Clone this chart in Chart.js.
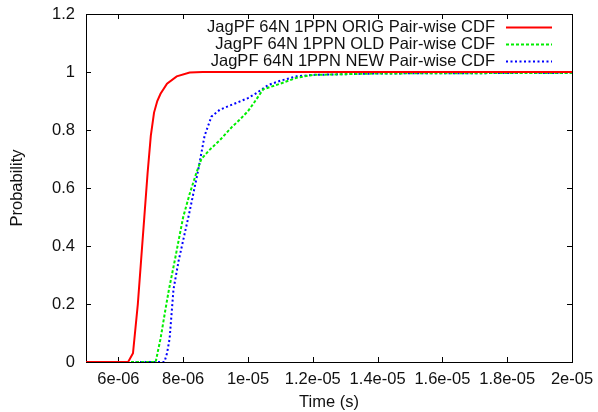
<!DOCTYPE html>
<html>
<head>
<meta charset="utf-8">
<script src="https://cdn.jsdelivr.net/npm/chart.js@4.4.1/dist/chart.umd.min.js"></script>
<style>
  html, body { margin: 0; padding: 0; background: #fff; }
  #wrap { width: 598px; height: 412px; position: relative; }
</style>
</head>
<body>
<div id="wrap"><canvas id="cdf"></canvas></div>
<script>
// time (s) / probability pairs
const origTime = [5e-6, 6.3e-6, 6.45e-6, 6.6e-6, 6.7e-6, 6.8e-6, 6.9e-6, 7.0e-6, 7.1e-6, 7.2e-6, 7.3e-6, 7.5e-6, 7.8e-6, 8.2e-6, 8.6e-6, 2e-5];
const origProb = [0, 0, 0.03, 0.2, 0.35, 0.5, 0.65, 0.78, 0.86, 0.9, 0.925, 0.96, 0.985, 0.998, 1, 1];

const oldTime = [5e-6, 7.15e-6, 7.3e-6, 7.45e-6, 7.56e-6, 7.74e-6, 7.86e-6, 8.0e-6, 8.2e-6, 8.4e-6, 8.56e-6, 8.8e-6, 9.13e-6, 9.5e-6, 9.74e-6, 10.0e-6, 10.16e-6, 10.47e-6, 11e-6, 11.5e-6, 12e-6, 14e-6, 2e-5];
const oldProb = [0, 0, 0.08, 0.18, 0.25, 0.35, 0.42, 0.5, 0.58, 0.65, 0.7, 0.73, 0.765, 0.81, 0.835, 0.865, 0.89, 0.94, 0.96, 0.98, 0.99, 0.995, 0.997];

const newTime = [5e-6, 7.42e-6, 7.5e-6, 7.58e-6, 7.7e-6, 7.86e-6, 8.0e-6, 8.2e-6, 8.46e-6, 8.66e-6, 8.87e-6, 9.13e-6, 9.74e-6, 10.0e-6, 10.26e-6, 10.62e-6, 11e-6, 11.5e-6, 12e-6, 14e-6, 2e-5];
const newProb = [0, 0, 0.03, 0.08, 0.25, 0.35, 0.42, 0.52, 0.66, 0.78, 0.846, 0.87, 0.898, 0.91, 0.927, 0.955, 0.97, 0.985, 0.99, 0.995, 0.997];

const seriesNames = ['JagPF 64N 1PPN ORIG Pair-wise CDF', 'JagPF 64N 1PPN OLD Pair-wise CDF', 'JagPF 64N 1PPN NEW Pair-wise CDF'];

const xTickValues = [6e-6, 8e-6, 1e-5, 1.2e-5, 1.4e-5, 1.6e-5, 1.8e-5, 2e-5];
const xTickLabels = ['6e-06', '8e-06', '1e-05', '1.2e-05', '1.4e-05', '1.6e-05', '1.8e-05', '2e-05'];
const yTickValues = [0, 0.2, 0.4, 0.6, 0.8, 1, 1.2];
const yTickLabels = ['0', '0.2', '0.4', '0.6', '0.8', '1', '1.2'];

const FONT = "'Liberation Sans', Arial, sans-serif";
const FSIZE = 16.5;

function pairs(ts, ps) {
    return ts.map((t, i) => ({ x: t, y: ps[i] }));
}

// gnuplot style box with inward ticks on all four sides
const frame = {
    id: 'frame',
    beforeDatasetsDraw(chart) {
        const { ctx, chartArea: a, scales } = chart;
        const len = 5;
        ctx.save();
        ctx.strokeStyle = '#000';
        ctx.lineWidth = 1;
        ctx.beginPath();
        xTickValues.forEach(v => {
            const x = Math.round(scales.x.getPixelForValue(v)) + 0.5;
            ctx.moveTo(x, a.bottom); ctx.lineTo(x, a.bottom - len);
            ctx.moveTo(x, a.top); ctx.lineTo(x, a.top + len);
        });
        yTickValues.forEach(v => {
            const y = Math.round(scales.y.getPixelForValue(v)) + 0.5;
            ctx.moveTo(a.left, y); ctx.lineTo(a.left + len, y);
            ctx.moveTo(a.right, y); ctx.lineTo(a.right - len, y);
        });
        ctx.stroke();
        ctx.strokeRect(Math.round(a.left) + 0.5, Math.round(a.top) + 0.5, Math.round(a.right - a.left), Math.round(a.bottom - a.top));
        ctx.restore();
    },
    afterDraw(chart) {
        const { ctx } = chart;
        ctx.save();
        ctx.font = FSIZE + 'px ' + FONT;
        ctx.textAlign = 'right';
        ctx.textBaseline = 'middle';
        chart.data.datasets.forEach((ds, i) => {
            const y = 27 + i * 17;
            ctx.fillStyle = '#111';
            ctx.fillText(ds.label, 495, y);
            ctx.strokeStyle = ds.borderColor;
            ctx.lineWidth = ds.borderWidth;
            ctx.setLineDash(ds.borderDash || []);
            ctx.beginPath();
            ctx.moveTo(506, y + 0.5);
            ctx.lineTo(552, y + 0.5);
            ctx.stroke();
        });
        ctx.restore();
    }
};

new Chart(document.getElementById('cdf'), {
    type: 'scatter',
    data: {
        datasets: [
            { label: seriesNames[0], data: pairs(origTime, origProb), borderColor: '#ff0000', borderWidth: 2 },
            { label: seriesNames[1], data: pairs(oldTime, oldProb), borderColor: '#00ee00', borderWidth: 2, borderDash: [3, 2] },
            { label: seriesNames[2], data: pairs(newTime, newProb), borderColor: '#0000ff', borderWidth: 2, borderDash: [2, 2.5] }
        ].map(d => Object.assign(d, { showLine: true, pointRadius: 0, tension: 0, fill: false }))
    },
    options: {
        responsive: true,
        maintainAspectRatio: false,
        animation: false,
        layout: { padding: { top: 14, right: 26, bottom: 0, left: 0 } },
        plugins: { legend: { display: false }, tooltip: { enabled: false } },
        scales: {
            x: {
                type: 'linear', min: 5e-6, max: 2e-5,
                afterBuildTicks: s => { s.ticks = xTickValues.map(v => ({ value: v })); },
                afterFit: s => { s.height = 50; s.paddingLeft = 0; s.paddingRight = 0; },
                grid: { display: false, drawTicks: false },
                border: { display: false },
                ticks: {
                    color: '#111', padding: 8, maxRotation: 0, autoSkip: false,
                    font: { family: FONT, size: FSIZE },
                    callback: (v, i) => xTickLabels[i]
                },
                title: { display: true, text: 'Time (s)', color: '#111', padding: 0, font: { family: FONT, size: FSIZE } }
            },
            y: {
                type: 'linear', min: 0, max: 1.2,
                afterBuildTicks: s => { s.ticks = yTickValues.map(v => ({ value: v })); },
                // drop the label overhang padding so the plot box keeps its own top edge
                afterFit: s => { s.width = 86; s.paddingTop = 0; s.paddingBottom = 0; },
                grid: { display: false, drawTicks: false },
                border: { display: false },
                ticks: {
                    color: '#111', padding: 11, autoSkip: false,
                    font: { family: FONT, size: FSIZE },
                    callback: (v, i) => yTickLabels[i]
                },
                title: { display: true, text: 'Probability', color: '#111', padding: { top: 8 }, font: { family: FONT, size: FSIZE } }
            }
        }
    },
    plugins: [frame]
});
</script>
</body>
</html>
